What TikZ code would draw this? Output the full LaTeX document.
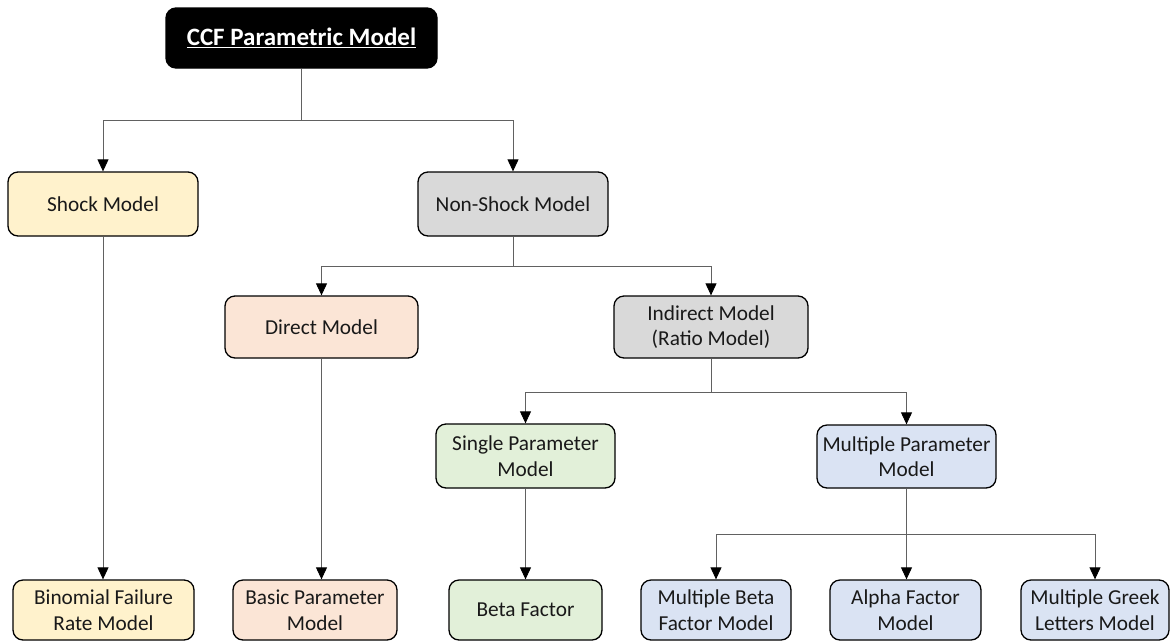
\documentclass[tikz,border=0pt]{standalone}
\usepackage{fontspec}
\setmainfont{Carlito}
\usetikzlibrary{arrows.meta}
\definecolor{shockfill}{HTML}{FFF2CC}
\definecolor{greyfill}{HTML}{D9D9D9}
\definecolor{directfill}{HTML}{FBE5D6}
\definecolor{singlefill}{HTML}{E2F0D9}
\definecolor{multifill}{HTML}{DAE3F3}
\begin{document}
\begin{tikzpicture}[x=1pt,y=-1pt,
  box/.style={draw=black, line width=1.3pt, rounded corners=10pt, inner sep=0pt,
    align=center, text=black!90, font=\fontsize{21.3}{25.5}\selectfont},
  link/.style={draw=black!62, line width=0.9pt},
  arr/.style={link, -{Triangle[width=11pt,length=12pt,color=black]}}]
\useasboundingbox[fill=white] (0,0) rectangle (1170,641);

% root
\node[box, fill=black, text=white, minimum width=271pt, minimum height=60pt,
  font=\bfseries\fontsize{25}{30}\selectfont] (ccf) at (301.5,38) {\underline{CCF Parametric Model}};

% first level
\node[box, fill=shockfill, minimum width=190pt, minimum height=64pt] (shock) at (103,204) {Shock Model};
\node[box, fill=greyfill, minimum width=190pt, minimum height=64pt] (nonshock) at (513,204) {Non-Shock Model};

% second level
\node[box, fill=directfill, minimum width=193pt, minimum height=62pt] (direct) at (321.5,327) {Direct Model};
\node[box, fill=greyfill, minimum width=194pt, minimum height=62pt] (indirect) at (711,327) {Indirect Model\\(Ratio Model)};

% third level
\node[box, fill=singlefill, minimum width=179pt, minimum height=64pt] (single) at (525.5,456) {Single Parameter\\Model};
\node[box, fill=multifill, minimum width=179pt, minimum height=63pt] (multiple) at (906.5,456.5) {Multiple Parameter\\Model};

% leaves
\node[box, fill=shockfill, minimum width=181pt, minimum height=60pt] (binom) at (103.5,610) {Binomial Failure\\Rate Model};
\node[box, fill=directfill, minimum width=164pt, minimum height=60pt] (basic) at (315,610) {Basic Parameter\\Model};
\node[box, fill=singlefill, minimum width=153pt, minimum height=60pt] (beta) at (525.5,610) {Beta Factor};
\node[box, fill=multifill, minimum width=150pt, minimum height=60pt] (mbeta) at (716,610) {Multiple Beta\\Factor Model};
\node[box, fill=multifill, minimum width=151pt, minimum height=60pt] (alpha) at (905.5,610) {Alpha Factor\\Model};
\node[box, fill=multifill, minimum width=148pt, minimum height=60pt] (greek) at (1095,610) {Multiple Greek\\Letters Model};

% branch points
\coordinate (j1) at (301.5,120);
\coordinate (j2) at (513,266);
\coordinate (j3) at (711,392);
\coordinate (j4) at (906.5,534);

% connectors
\draw[link] (ccf.south) -- (j1);
\draw[arr] (j1) -| (shock.north);
\draw[arr] (j1) -| (nonshock.north);
\draw[arr] (shock.south) -- (binom.north -| shock.south);

\draw[link] (nonshock.south) -- (j2);
\draw[arr] (j2) -| (direct.north);
\draw[arr] (j2) -| (indirect.north);
\draw[arr] (direct.south) -- (basic.north -| direct.south);

\draw[link] (indirect.south) -- (j3);
\draw[arr] (j3) -| (single.north);
\draw[arr] (j3) -| (multiple.north);
\draw[arr] (single.south) -- (beta.north -| single.south);

\draw[link] (multiple.south) -- (j4);
\draw[arr] (j4) -| (mbeta.north);
\draw[arr] (j4) -- (alpha.north -| j4);
\draw[arr] (j4) -| (greek.north);
\end{tikzpicture}
\end{document}
